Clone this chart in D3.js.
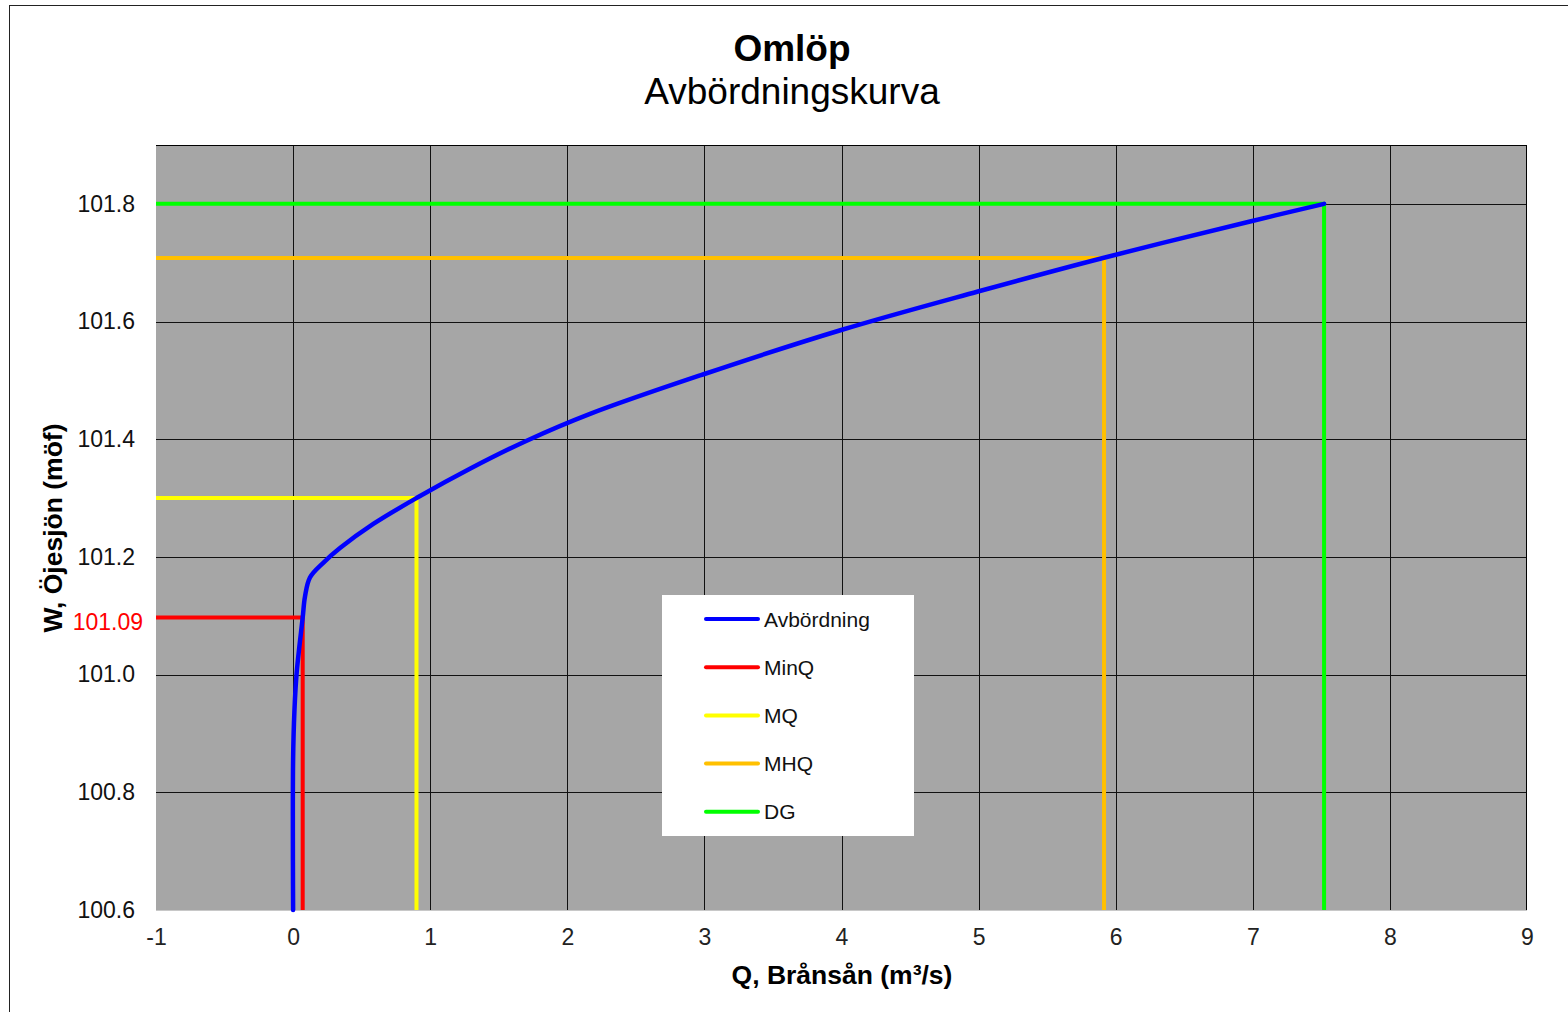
<!DOCTYPE html>
<html><head><meta charset="utf-8">
<script src="https://cdn.jsdelivr.net/npm/d3@7"></script>
<style>body{margin:0;background:#fff;} text{font-family:"Liberation Sans",Arial,sans-serif;}</style>
</head><body>
<svg id="c" width="1568" height="1012"></svg>
<script>
// Data
const curveQ = [0, 0, 0.01, 0.026, 0.07, 0.087, 0.123, 0.22, 0.342, 0.585, 0.9, 1.3, 1.7, 2.166, 2.989, 4.004, 4.995, 5.907, 6.98, 7.52];
const curveW = [100.6, 100.855, 100.94, 101.003, 101.097, 101.133, 101.165, 101.19, 101.215, 101.256, 101.3, 101.351, 101.397, 101.443, 101.51, 101.586, 101.651, 101.708, 101.77, 101.8];
const refNames = ["MinQ", "MQ", "MHQ", "DG"];
const refQ = [0.07, 0.9, 5.915, 7.52];
const refW = [101.097, 101.3, 101.708, 101.8];
const refColors = ["#ff0000", "#ffff00", "#ffc000", "#00ff00"];
const xTicks = [-1, 0, 1, 2, 3, 4, 5, 6, 7, 8, 9];
const yTicks = [100.6, 100.8, 101.0, 101.2, 101.4, 101.6, 101.8];
const minQLabel = 101.09;
const legendNames = ["Avbördning", "MinQ", "MQ", "MHQ", "DG"];
const legendColors = ["#0000ff", "#ff0000", "#ffff00", "#ffc000", "#00ff00"];

const svg = d3.select("#c");
const L = 156, R = 1527, T = 145, B = 910;
const x = d3.scaleLinear().domain([-1, 9]).range([L, R]);
const y = d3.scaleLinear().domain([100.6, 101.9]).range([B, T]);
const FONT = "Liberation Sans, Arial, sans-serif";

// outer frame
svg.append("rect").attr("x", 9.5).attr("y", 5.5).attr("width", 1600).attr("height", 1100)
  .attr("fill", "#fff").attr("stroke", "#222").attr("stroke-width", 1);

// titles
svg.append("text").attr("x", 792).attr("y", 61).attr("text-anchor", "middle")
  .attr("font-size", 37).attr("font-weight", "bold").text("Omlöp");
svg.append("text").attr("x", 792).attr("y", 104).attr("text-anchor", "middle")
  .attr("font-size", 37).text("Avbördningskurva");

// plot area
svg.append("rect").attr("x", L).attr("y", T).attr("width", R - L).attr("height", B - T).attr("fill", "#a6a6a6");

// grid
const g = svg.append("g");
g.selectAll(".vx").data(xTicks.slice(1, -1)).join("line")
  .attr("x1", d => Math.round(x(d)) + 0.5).attr("x2", d => Math.round(x(d)) + 0.5)
  .attr("y1", T).attr("y2", B).attr("stroke", "#111").attr("stroke-width", 1);
g.selectAll(".hy").data(yTicks.slice(1)).join("line")
  .attr("x1", L).attr("x2", R)
  .attr("y1", d => Math.round(y(d)) + 0.5).attr("y2", d => Math.round(y(d)) + 0.5)
  .attr("stroke", "#111").attr("stroke-width", 1);
// borders
svg.append("line").attr("x1", L).attr("x2", R).attr("y1", T + 0.5).attr("y2", T + 0.5).attr("stroke", "#000");
svg.append("line").attr("x1", R - 0.5).attr("x2", R - 0.5).attr("y1", T).attr("y2", B).attr("stroke", "#000");
svg.append("line").attr("x1", L).attr("x2", R).attr("y1", B + 0.5).attr("y2", B + 0.5).attr("stroke", "#c8c8c8");

// axes labels via d3 axes
const xAxis = svg.append("g").attr("transform", `translate(0,${B})`)
  .call(d3.axisBottom(x).tickValues(xTicks).tickSize(0).tickPadding(19).tickFormat(d => String(d)));
xAxis.select(".domain").remove();
xAxis.selectAll("text").attr("font-size", 23).attr("fill", "#222").attr("font-family", FONT);

const yAxis = svg.append("g").attr("transform", `translate(${L},0)`)
  .call(d3.axisLeft(y).tickValues(yTicks).tickSize(0).tickPadding(21).tickFormat(d3.format(".1f")));
yAxis.select(".domain").remove();
yAxis.selectAll("text").attr("font-size", 23).attr("fill", "#111").attr("font-family", FONT);

const yRed = svg.append("g").attr("transform", `translate(${L},0)`)
  .call(d3.axisLeft(y).tickValues([minQLabel]).tickSize(0).tickPadding(13).tickFormat(d3.format(".2f")));
yRed.select(".domain").remove();
yRed.selectAll("text").attr("font-size", 23).attr("fill", "#ff0000").attr("font-family", FONT);

// axis titles
svg.append("text").attr("x", 842).attr("y", 984).attr("text-anchor", "middle")
  .attr("font-size", 26.5).attr("font-weight", "bold").text("Q, Brånsån (m³/s)");
svg.append("text").attr("transform", "translate(62,528) rotate(-90)").attr("text-anchor", "middle")
  .attr("font-size", 26.5).attr("font-weight", "bold").text("W, Öjesjön (möf)");

// reference lines
refNames.forEach((n, i) => {
  const pts = [[-1, refW[i]], [refQ[i], refW[i]], [refQ[i], 100.6]];
  svg.append("path").attr("d", d3.line().x(d => x(d[0])).y(d => y(d[1]))(pts))
    .attr("fill", "none").attr("stroke", refColors[i]).attr("stroke-width", 4).attr("stroke-linejoin", "round");
});

// main curve
const pts = curveQ.map((q, i) => [q, curveW[i]]);
svg.append("path").attr("d", d3.line().x(d => x(d[0])).y(d => y(d[1])).curve(d3.curveCatmullRom.alpha(0.5))(pts))
  .attr("fill", "none").attr("stroke", "#0000ff").attr("stroke-width", 4.5).attr("stroke-linecap", "round");

// legend
const lg = svg.append("g");
lg.append("rect").attr("x", 662).attr("y", 595).attr("width", 252).attr("height", 241).attr("fill", "#fff");
legendNames.forEach((n, i) => {
  const yy = 619 + i * 48.2;
  lg.append("line").attr("x1", 706).attr("x2", 758).attr("y1", yy).attr("y2", yy)
    .attr("stroke", legendColors[i]).attr("stroke-width", 4).attr("stroke-linecap", "round");
  lg.append("text").attr("x", 764).attr("y", yy + 7.5).attr("font-size", 21).attr("fill", "#111").text(n);
});
</script>
</body></html>
